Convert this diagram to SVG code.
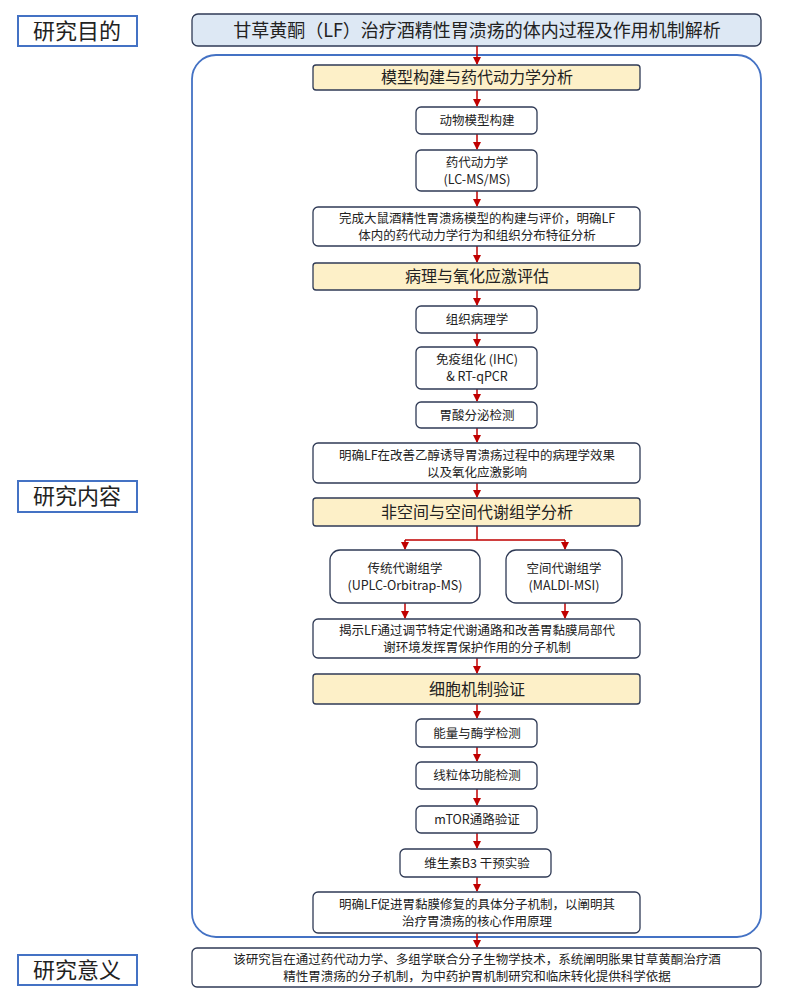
<svg xmlns="http://www.w3.org/2000/svg" width="800" height="1008" viewBox="0 0 800 1008">
<defs>
<style>
text{font-family:"Noto Sans CJK SC","Noto Sans",sans-serif;fill:#222;text-anchor:middle}
.lab{fill:#fff;stroke:#4472c4;stroke-width:2}
.lt{font-size:22px}
.b{fill:#fff;stroke:#2f3a55;stroke-width:1.3}
.h{fill:#fdf0c8;stroke:#2f3a55;stroke-width:1.3}
.s{font-size:12.5px}
.hs{font-size:16px}
.c{stroke:#c00000;stroke-width:1.5;fill:none;marker-end:url(#a)}
</style>
<marker id="a" markerWidth="8" markerHeight="8" refX="7" refY="4" orient="auto" markerUnits="userSpaceOnUse"><path d="M0,0L8,4L0,8z" fill="#c00000"/></marker>
</defs>
<rect x="0" y="0" width="800" height="1008" fill="#fff"/>
<g id="lab1"><rect class="lab" x="18" y="16" width="119" height="30"/><text class="lt" x="77" y="39">研究目的</text></g>
<g id="lab2"><rect class="lab" x="18" y="481" width="119" height="31"/><text class="lt" x="77" y="504">研究内容</text></g>
<g id="lab3"><rect class="lab" x="18" y="955" width="119" height="30"/><text class="lt" x="77" y="978">研究意义</text></g>
<g id="title"><rect x="192" y="14" width="569" height="32" rx="6" fill="#dde8f4" stroke="#2f3a55" stroke-width="1.3"/><text x="477" y="37" font-size="18">甘草黄酮（LF）治疗酒精性胃溃疡的体内过程及作用机制解析</text></g>
<g id="container"><rect x="192" y="55" width="569" height="882" rx="24" fill="none" stroke="#4472c4" stroke-width="1.8"/></g>
<g id="connectors">
<path class="c" d="M477,46V64"/>
<path class="c" d="M477,90V106"/>
<path class="c" d="M477,134V149"/>
<path class="c" d="M477,191V206"/>
<path class="c" d="M477,246V262"/>
<path class="c" d="M477,290V305"/>
<path class="c" d="M477,333V346"/>
<path class="c" d="M477,389V401"/>
<path class="c" d="M477,428V442"/>
<path class="c" d="M477,483V497"/>
<path d="M477,526V540M405,540H565" stroke="#c00000" stroke-width="1.5" fill="none"/>
<path class="c" d="M405,540V549"/>
<path class="c" d="M565,540V549"/>
<path class="c" d="M405,603V618"/>
<path class="c" d="M565,603V618"/>
<path class="c" d="M477,658V673"/>
<path class="c" d="M477,704V718"/>
<path class="c" d="M477,747V761"/>
<path class="c" d="M477,789V805"/>
<path class="c" d="M477,833V848"/>
<path class="c" d="M477,877V891"/>
<path class="c" d="M477,933V947"/>
</g>
<g id="h1"><rect class="h" x="313" y="65" width="327" height="25" rx="3"/><text class="hs" x="477" y="83">模型构建与药代动力学分析</text></g>
<g id="n1"><rect class="b" x="416" y="107" width="121" height="27" rx="5"/><text class="s" x="477" y="125">动物模型构建</text></g>
<g id="n2"><rect class="b" x="416" y="150" width="121" height="41" rx="5"/><text class="s" x="477" y="167">药代动力学</text><text class="s" x="477" y="184">(LC-MS/MS)</text></g>
<g id="n3"><rect class="b" x="313" y="207" width="327" height="39" rx="5"/><text class="s" x="477" y="223">完成大鼠酒精性胃溃疡模型的构建与评价，明确LF</text><text class="s" x="477" y="240">体内的药代动力学行为和组织分布特征分析</text></g>
<g id="h2"><rect class="h" x="313" y="263" width="327" height="27" rx="3"/><text class="hs" x="477" y="282">病理与氧化应激评估</text></g>
<g id="n4"><rect class="b" x="416" y="306" width="121" height="27" rx="5"/><text class="s" x="477" y="324">组织病理学</text></g>
<g id="n5"><rect class="b" x="416" y="347" width="121" height="42" rx="5"/><text class="s" x="477" y="364">免疫组化 (IHC)</text><text class="s" x="477" y="381">&amp; RT-qPCR</text></g>
<g id="n6"><rect class="b" x="416" y="402" width="121" height="26" rx="5"/><text class="s" x="477" y="420">胃酸分泌检测</text></g>
<g id="n7"><rect class="b" x="313" y="443" width="327" height="40" rx="5"/><text class="s" x="477" y="460">明确LF在改善乙醇诱导胃溃疡过程中的病理学效果</text><text class="s" x="477" y="477">以及氧化应激影响</text></g>
<g id="h3"><rect class="h" x="313" y="498" width="327" height="28" rx="3"/><text class="hs" x="477" y="518">非空间与空间代谢组学分析</text></g>
<g id="n8"><rect class="b" x="330" y="550" width="150" height="53" rx="10"/><text class="s" x="405" y="573">传统代谢组学</text><text class="s" x="405" y="590">(UPLC-Orbitrap-MS)</text></g>
<g id="n9"><rect class="b" x="506" y="550" width="116" height="53" rx="10"/><text class="s" x="564" y="573">空间代谢组学</text><text class="s" x="564" y="590">(MALDI-MSI)</text></g>
<g id="n10"><rect class="b" x="313" y="619" width="327" height="39" rx="5"/><text class="s" x="477" y="635">揭示LF通过调节特定代谢通路和改善胃黏膜局部代</text><text class="s" x="477" y="652">谢环境发挥胃保护作用的分子机制</text></g>
<g id="h4"><rect class="h" x="313" y="674" width="327" height="30" rx="3"/><text class="hs" x="477" y="695">细胞机制验证</text></g>
<g id="n11"><rect class="b" x="416" y="719" width="121" height="28" rx="5"/><text class="s" x="477" y="738">能量与酶学检测</text></g>
<g id="n12"><rect class="b" x="416" y="762" width="121" height="27" rx="5"/><text class="s" x="477" y="780">线粒体功能检测</text></g>
<g id="n13"><rect class="b" x="416" y="806" width="121" height="27" rx="5"/><text class="s" x="477" y="824">mTOR通路验证</text></g>
<g id="n14"><rect class="b" x="400" y="849" width="151" height="28" rx="5"/><text class="s" x="477" y="868">维生素B3 干预实验</text></g>
<g id="n15"><rect class="b" x="313" y="892" width="327" height="41" rx="5"/><text class="s" x="477" y="909">明确LF促进胃黏膜修复的具体分子机制，以阐明其</text><text class="s" x="477" y="926">治疗胃溃疡的核心作用原理</text></g>
<g id="n16"><rect class="b" x="192" y="948" width="569" height="39" rx="5"/><text class="s" x="477" y="964">该研究旨在通过药代动力学、多组学联合分子生物学技术，系统阐明胀果甘草黄酮治疗酒</text><text class="s" x="477" y="981">精性胃溃疡的分子机制，为中药护胃机制研究和临床转化提供科学依据</text></g>
</svg>
